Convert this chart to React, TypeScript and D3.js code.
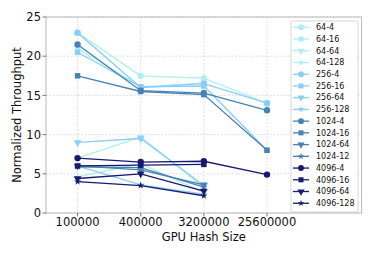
import React from "react";
import * as d3 from "d3";

const categories = ["100000", "400000", "3200000", "25600000"];
const yTicks = [0, 5, 10, 15, 20, 25];
const seriesNames = [
  "64-4", "64-16", "64-64", "64-128",
  "256-4", "256-16", "256-64", "256-128",
  "1024-4", "1024-16", "1024-64", "1024-12",
  "4096-4", "4096-16", "4096-64", "4096-128",
];
const v64_4 = [23, 17.5, 17.2, 14];
const v64_16 = [21, 16.1, 16.6];
const v64_64 = [7, 9.7, 3.3];
const v64_128 = [4.6, 6.3, 2.6];
const v256_4 = [23, 16.0, 16.5, 14];
const v256_16 = [20.5, 16.1, 16.2, 8];
const v256_64 = [9, 9.5, 3.5];
const v256_128 = [6, 3.6, 2.4];
const v1024_4 = [21.5, 15.6, 15.3, 13.1];
const v1024_16 = [17.5, 15.5, 15.1, 8];
const v1024_64 = [6, 5.5, 3.6];
const v1024_12 = [5.9, 5.8, 3.3];
const v4096_4 = [7, 6.5, 6.6, 4.9];
const v4096_16 = [6, 6.1, 6.2];
const v4096_64 = [4.4, 5.0, 2.8];
const v4096_128 = [4.0, 3.5, 2.2];
const seriesValues = [
  v64_4, v64_16, v64_64, v64_128,
  v256_4, v256_16, v256_64, v256_128,
  v1024_4, v1024_16, v1024_64, v1024_12,
  v4096_4, v4096_16, v4096_64, v4096_128,
];
const groupColors = ["#afeeee", "#87cefa", "#4682b4", "#191970"];
const markerTypes = [d3.symbolCircle, d3.symbolSquare, d3.symbolTriangle, d3.symbolStar];
const markerSizes = [32, 30, 26, 16];

const L = 46, R = 361.7, T = 17, B = 213;
const FONT = "DejaVu Sans, sans-serif";

export default function App() {
  const x = d3.scaleLinear().domain([-0.5, 4.5]).range([L, R]);
  const y = d3.scaleLinear().domain([0, 25]).range([B, T]);
  const line = d3.line<number>().x((_, i) => x(i)).y((d) => y(d));
  const sym = (i: number, scale: number) => {
    const k = i % 4;
    return d3.symbol().type(markerTypes[k]).size(markerSizes[k] * scale)()!;
  };
  const markerTransform = (i: number) => (i % 4 === 2 ? " rotate(180)" : "");
  const legendTop = 27.3;
  const legendStep = 11.73;
  return (
    <svg width={374} height={256} style={{ position: "absolute", left: 0, top: 0, background: "#fff" }}>
      {yTicks.map((t) => (
        <line key={"gy" + t} x1={L} x2={R} y1={y(t)} y2={y(t)} stroke="#d8d8d8" strokeWidth={0.8} strokeDasharray="2,1.5" />
      ))}
      {categories.map((c, i) => (
        <line key={"gx" + c} x1={x(i)} x2={x(i)} y1={T} y2={B} stroke="#d8d8d8" strokeWidth={0.8} strokeDasharray="2,1.5" />
      ))}
      {seriesValues.map((vals, si) => {
        const color = groupColors[Math.floor(si / 4)];
        return (
          <g key={seriesNames[si]}>
            <path d={line(vals)!} fill="none" stroke={color} strokeWidth={1.3} />
            {vals.map((v, i) => (
              <path key={i} d={sym(si, 1)} transform={`translate(${x(i)},${y(v)})${markerTransform(si)}`} fill={color} />
            ))}
          </g>
        );
      })}
      <rect x={L} y={T} width={R - L} height={B - T} fill="none" stroke="#aaaaaa" strokeWidth={0.8} />
      {yTicks.map((t) => (
        <g key={"yt" + t}>
          <line x1={L - 3.5} x2={L} y1={y(t)} y2={y(t)} stroke="#555" strokeWidth={0.8} />
          <text x={L - 5} y={y(t)} dy="0.36em" textAnchor="end" fontSize={11.5} fontFamily={FONT} fill="#111">{t}</text>
        </g>
      ))}
      {categories.map((c, i) => (
        <g key={"xt" + c}>
          <line x1={x(i)} x2={x(i)} y1={B} y2={B + 3.5} stroke="#555" strokeWidth={0.8} />
          <text x={x(i)} y={226} textAnchor="middle" fontSize={11.5} fontFamily={FONT} fill="#111">{c}</text>
        </g>
      ))}
      <text x={(L + R) / 2} y={240.5} textAnchor="middle" fontSize={11.5} fontFamily={FONT} fill="#111">GPU Hash Size</text>
      <text transform={`translate(21,${(T + B) / 2}) rotate(-90)`} textAnchor="middle" fontSize={11.5} fontFamily={FONT} fill="#111">Normalized Throughput</text>
      <rect x={291} y={21} width={67} height={191} rx={2} fill="#fff" fillOpacity={0.85} stroke="#cccccc" strokeWidth={0.8} />
      {seriesNames.map((n, si) => {
        const color = groupColors[Math.floor(si / 4)];
        const ly = legendTop + si * legendStep;
        return (
          <g key={"lg" + n}>
            <line x1={293} x2={309} y1={ly} y2={ly} stroke={color} strokeWidth={1.3} />
            <path d={sym(si, 0.85)} transform={`translate(301,${ly})${markerTransform(si)}`} fill={color} />
            <text x={316} y={ly} dy="0.35em" fontSize={8} fontFamily={FONT} fill="#111">{n}</text>
          </g>
        );
      })}
    </svg>
  );
}
